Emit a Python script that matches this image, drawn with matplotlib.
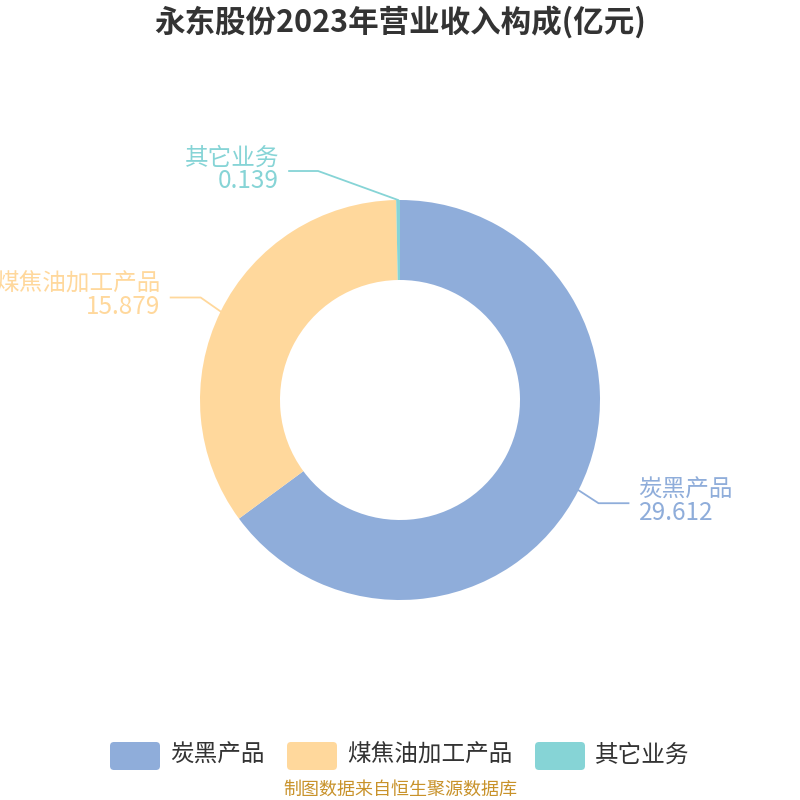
import numpy as np
import matplotlib.pyplot as plt
from matplotlib.patches import FancyBboxPatch

plt.rcParams['font.family'] = ['Noto Sans CJK SC', 'DejaVu Sans']

title = '永东股份2023年营业收入构成(亿元)'
categories = ['炭黑产品', '煤焦油加工产品', '其它业务']
values = [29.612, 15.879, 0.139]
value_labels = ['29.612', '15.879', '0.139']
colors = ['#8FADDA', '#FFD89C', '#86D4D6']
source = '制图数据来自恒生聚源数据库'

H = 800
cx, cy, R = 400, 400, 200

fig = plt.figure(figsize=(8, 8), dpi=100)
ax = fig.add_axes([0, 0, 1, 1])

wedges, _ = ax.pie(values, colors=colors, center=(cx, H - cy), radius=R,
                   startangle=90, counterclock=False,
                   wedgeprops=dict(width=80, linewidth=0))
ax.set_xlim(0, 800)
ax.set_ylim(0, 800)
ax.set_aspect('auto')
ax.axis('off')

# label line layout: (elbow dx, elbow dy, horizontal length) in screen px
layout = [(20, 13, 30), (-20, -14, 30), (-80, -29, 29)]
for w, lab, val, col, (ex, ey, hl) in zip(wedges, categories, value_labels, colors, layout):
    ang = np.deg2rad((w.theta1 + w.theta2) / 2)
    px = cx + R * np.cos(ang)
    py = cy - R * np.sin(ang)
    bx, by = px + ex, py + ey
    side = 1 if np.cos(ang) > 0 else -1
    if abs(np.cos(ang)) < 0.05:
        side = -1
    tx = bx + side * hl
    ax.plot([px, bx, tx], [H - py, H - by, H - by], color=col, lw=1.3)
    ha = 'left' if side > 0 else 'right'
    xt = tx + side * 10
    ax.text(xt, H - (by - 13), lab, color=col, fontsize=17, ha=ha, va='center')
    ax.text(xt, H - (by + 10), val, color=col, fontsize=17.5, ha=ha, va='center')

ax.text(400, H - 22, title, fontsize=22, fontweight='bold', color='#333333',
        ha='center', va='center')

# legend
box_x = [110, 287, 535]
for bxp, lab, col in zip(box_x, categories, colors):
    ax.add_patch(FancyBboxPatch((bxp + 4, H - 770 + 4), 42, 20,
                                boxstyle='round,pad=4', fc=col, ec='none'))
    ax.text(bxp + 60, H - 755, lab, fontsize=17, color='#333333',
            ha='left', va='center')

ax.text(400, H - 790, source, fontsize=13, color='#C8922A', ha='center', va='center')

fig.savefig('out.png', dpi=100)
